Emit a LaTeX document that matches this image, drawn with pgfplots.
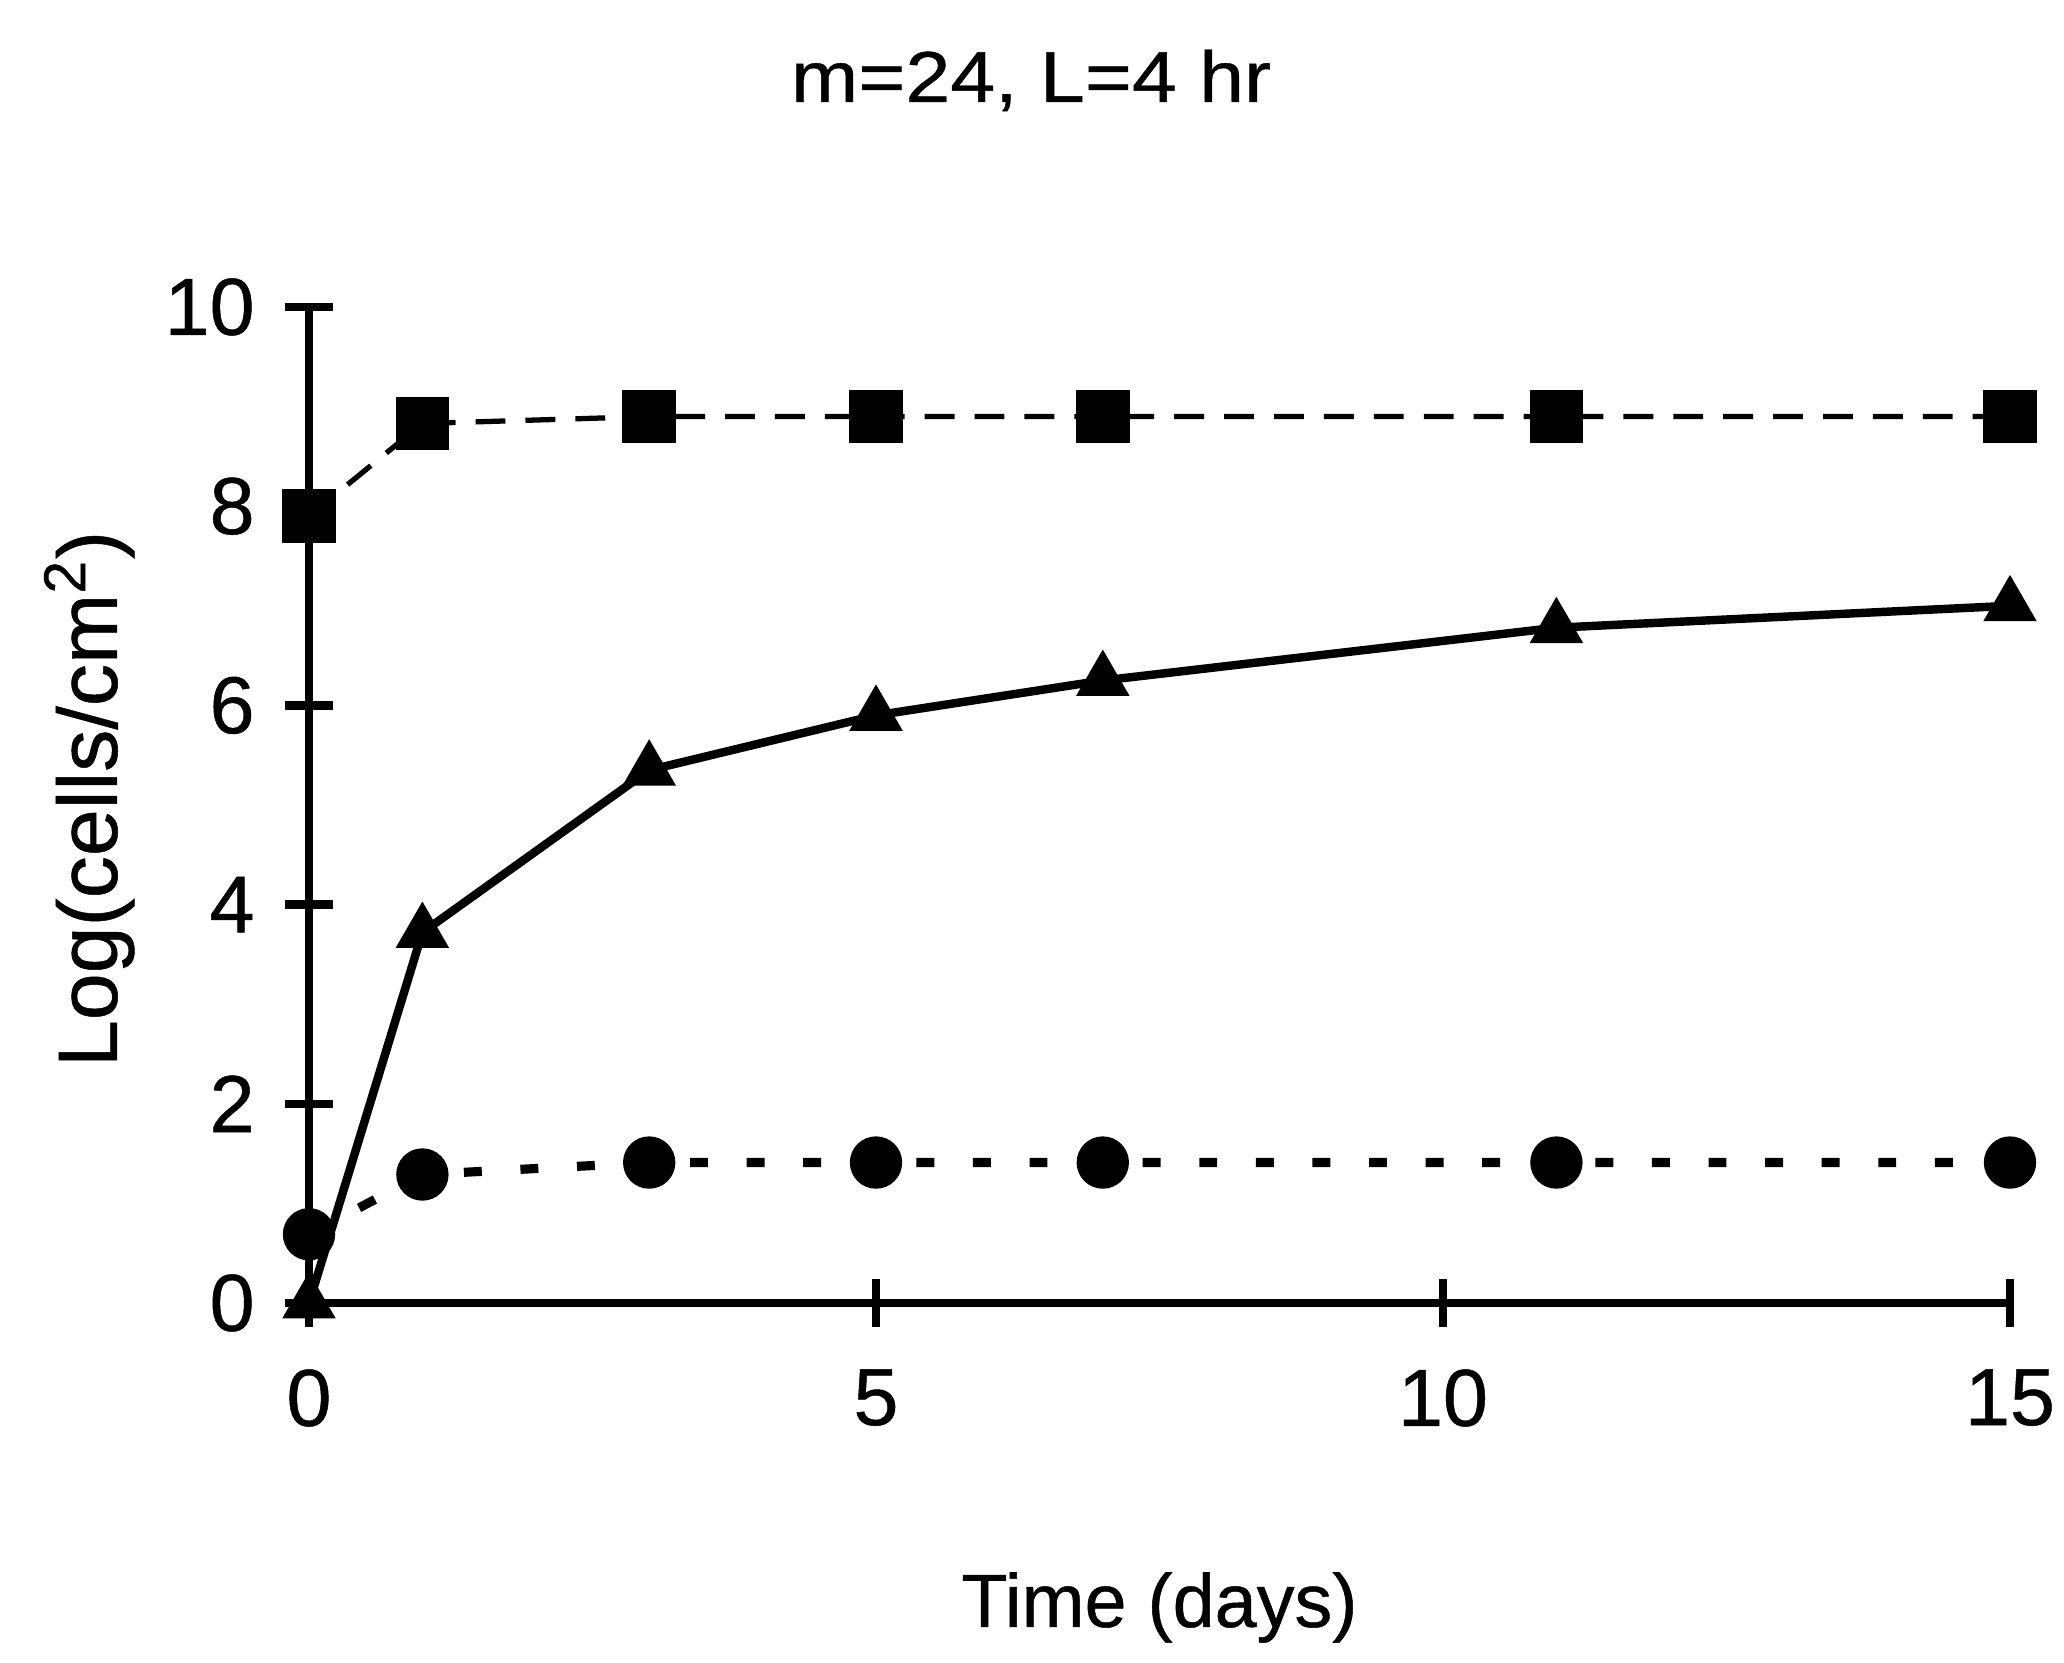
\documentclass[border=0pt]{standalone}
\usepackage{pgfplots}
\pgfplotsset{compat=1.18}
\usepackage{fontspec}
\setmainfont{Liberation Sans}[FakeBold=0.6]
\newfontfamily\titlefont{Liberation Sans}[FakeStretch=1.12, FakeBold=0.6]
\begin{document}
\begin{tikzpicture}
\path[use as bounding box] (0,0) rectangle (20.64cm,16.63cm);
\begin{axis}[
  at={(3.09cm,3.60cm)}, anchor=south west,
  scale only axis, width=17.01cm, height=9.96cm,
  xmin=0, xmax=15, ymin=0, ymax=10,
  axis lines*=left,
  axis line style={line width=2.4pt, black},
  xtick={0,5,10,15}, ytick={0,2,4,6,8,10},
  tick align=center, major tick length=0.48cm,
  every tick/.style={line width=2.4pt, black},
  /pgf/number format/assume math mode=true,
  ticklabel style={font=\fontsize{23}{27}\selectfont},
  yticklabel style={anchor=east, xshift=-0.18cm},
  xticklabel style={anchor=north, yshift=-0.3cm},
  clip=false,
  title={\titlefont\fontsize{20.5}{24}\selectfont m=24, L=4 hr},
  title style={at={(axis description cs:0.4245,1.1847)}, anchor=base},
  xlabel={Time (days)},
  xlabel style={font=\fontsize{21.5}{26}\selectfont, at={(axis description cs:0.5,-0.3253)}, anchor=base},
  ylabel={Log(cells/cm\textsuperscript{2})},
  ylabel style={font=\fontsize{24}{28}\selectfont, at={(axis description cs:-0.1129,0.506)}, anchor=base, rotate=0},
]
\addplot[black, line width=1.5pt, dash pattern=on 8.5pt off 5.7pt,
  mark=square*, mark size=6.9pt, mark options={solid}]
  coordinates {(0,7.9) (1,8.83) (3,8.9) (5,8.9) (7,8.9) (11,8.9) (15,8.9)};
\addplot[black, line width=2.6pt, dash pattern=on 5.1pt off 11pt,
  mark=*, mark size=7.2pt, mark options={solid, line width=0.5pt}]
  coordinates {(0,0.69) (1,1.29) (3,1.41) (5,1.41) (7,1.41) (11,1.41) (15,1.41)};
\addplot[black, line width=2.4pt, solid,
  mark=triangle*, mark size=8.3pt, mark options={solid, line width=0.5pt}]
  coordinates {(0,0) (1,3.72) (3,5.35) (5,5.9) (7,6.25) (11,6.78) (15,7.0)};
\end{axis}
\end{tikzpicture}
\end{document}
